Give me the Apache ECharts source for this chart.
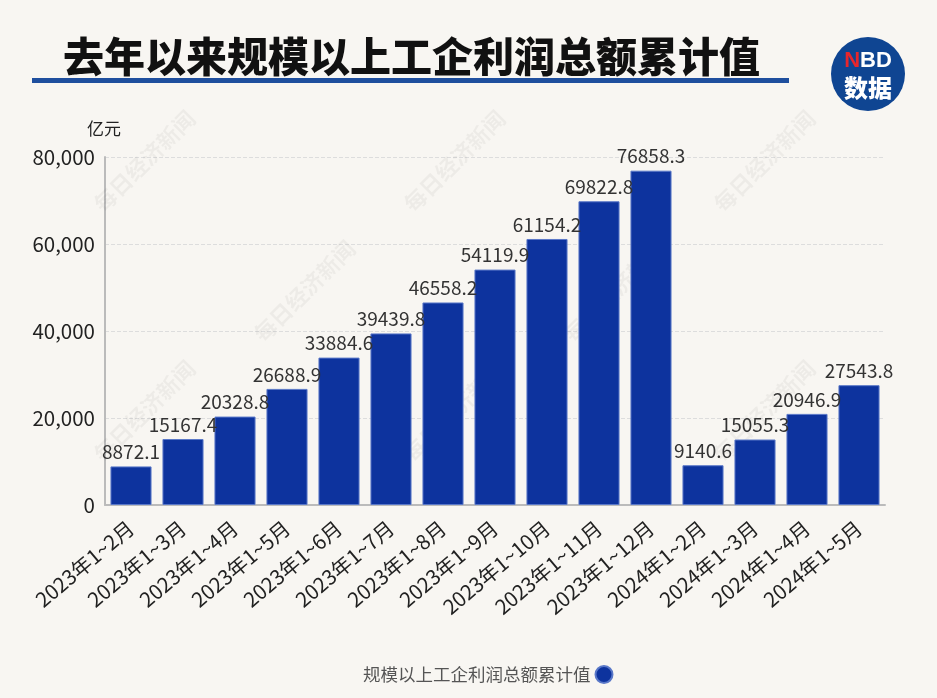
<!DOCTYPE html>
<html><head><meta charset="utf-8">
<script src="https://cdn.jsdelivr.net/npm/echarts@6/dist/echarts.min.js"></script>
<style>html,body{margin:0;padding:0;background:#f8f6f2;}#c{width:937px;height:698px;}</style>
</head><body><div id="c"></div>
<script>
var categories = ['2023年1~2月','2023年1~3月','2023年1~4月','2023年1~5月','2023年1~6月','2023年1~7月','2023年1~8月','2023年1~9月','2023年1~10月','2023年1~11月','2023年1~12月','2024年1~2月','2024年1~3月','2024年1~4月','2024年1~5月'];
var profits = [8872.1,15167.4,20328.8,26688.9,33884.6,39439.8,46558.2,54119.9,61154.2,69822.8,76858.3,9140.6,15055.3,20946.9,27543.8];
var seriesName = '规模以上工企利润总额累计值';
var titleText = '去年以来规模以上工企利润总额累计值';

var chart = echarts.init(document.getElementById('c'));
var wm = [];
var wmPos = [[90,200],[400,200],[710,200],[90,450],[400,450],[710,450],[250,330],[560,330]];
wmPos.forEach(function(p){
  wm.push({type:'text', x:p[0], y:p[1], rotation:Math.PI/4, silent:true, z:1,
    style:{text:'每日经济新闻', font:'bold 22px "Noto Sans CJK SC"', fill:'rgba(0,0,0,0.045)'}});
});
chart.setOption({
  backgroundColor:'#f8f6f2',
  textStyle:{fontFamily:'"Noto Sans CJK SC","Noto Sans",sans-serif'},
  title:{text:titleText, left:58, top:31, textStyle:{fontSize:41, fontWeight:900, color:'#111'}},
  graphic:[
    {type:'rect', shape:{x:32,y:78,width:757,height:5}, style:{fill:'#1f4f9e'}},
    {type:'circle', shape:{cx:868,cy:74,r:37}, style:{fill:'#0f4592'}},
    {type:'text', x:868, y:61, style:{text:'{r|N}{w|BD}', align:'center', verticalAlign:'middle',
      rich:{r:{fill:'#e8262c',font:'bold 22px Arial'}, w:{fill:'#fff',font:'bold 22px Arial'}}}},
    {type:'text', x:868, y:88, style:{text:'数据', align:'center', verticalAlign:'middle', fill:'#fff', font:'900 24px "Noto Sans CJK SC"'}}
  ].concat(wm),
  legend:{data:[seriesName], bottom:9, left:358, align:'right', icon:'circle', itemWidth:17, itemHeight:17, itemGap:6,
    textStyle:{fontSize:17.5, color:'#555'}},
  grid:{left:105, right:52, top:157, bottom:193},
  xAxis:{type:'category', data:categories,
    axisLine:{lineStyle:{color:'#bbb', width:2}}, axisTick:{show:false},
    axisLabel:{rotate:40, fontSize:20.5, color:'#222', interval:0, margin:20}},
  yAxis:{type:'value', min:0, max:80000, interval:20000, name:'亿元', nameLocation:'end', nameGap:20,
    nameTextStyle:{fontSize:17, color:'#222', align:'right', padding:[0,-16,0,0]},
    axisLine:{show:true, lineStyle:{color:'#bbb', width:2}}, axisTick:{show:false},
    axisLabel:{fontSize:20.5, color:'#222', margin:10, formatter:function(v){return v.toLocaleString('en-US');}},
    splitLine:{lineStyle:{type:'dashed', color:'#ddd'}}},
  series:[{name:seriesName, type:'bar', data:profits, barWidth:'79%', z:3,
    itemStyle:{color:'#0d339e', borderColor:'#5a78c8', borderWidth:1},
    label:{show:true, position:'top', fontSize:19, color:'#333', distance:5, formatter:function(p){return p.value;}}}]
});
</script></body></html>
